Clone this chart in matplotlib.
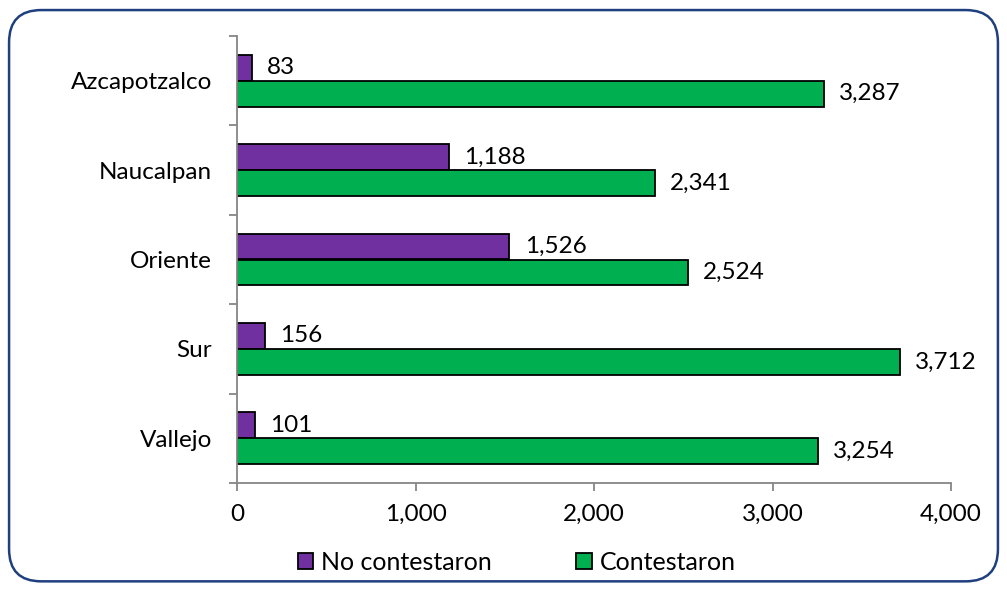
import matplotlib
matplotlib.use("Agg")
import matplotlib.pyplot as plt
from matplotlib.patches import FancyBboxPatch
from matplotlib.ticker import FuncFormatter, FixedLocator
import numpy as np

plt.rcParams['font.family'] = ['Lato', 'DejaVu Sans']

categories = ["Azcapotzalco", "Naucalpan", "Oriente", "Sur", "Vallejo"]
no_contestaron = [83, 1188, 1526, 156, 101]
contestaron = [3287, 2341, 2524, 3712, 3254]
series_names = ["No contestaron", "Contestaron"]
x_ticks = [0, 1000, 2000, 3000, 4000]

purple = "#7030A0"
green = "#00B050"
axis_gray = "#868686"
fs = 17.5

fig = plt.figure(figsize=(10.07, 5.92), dpi=100)

# rounded frame around the whole chart, kept behind the axes
frame = FancyBboxPatch((0.009, 0.018), 0.982, 0.965,
                       boxstyle="round,pad=0,rounding_size=0.032",
                       transform=fig.transFigure, facecolor="white",
                       edgecolor="#1F3F7F", linewidth=1.8,
                       mutation_aspect=1007 / 592, zorder=-10)
fig.patches.append(frame)

ax = fig.add_axes([237 / 1007, 1 - 483 / 592, (951 - 237) / 1007, (483 - 36) / 592])
ax.set_facecolor("none")
ax.set_zorder(5)

n = len(categories)
y = np.arange(n)
h = 0.29
ax.barh(y - h / 2, no_contestaron, height=h, color=purple, edgecolor="black",
        linewidth=1.3, label=series_names[0])
ax.barh(y + h / 2, contestaron, height=h, color=green, edgecolor="black",
        linewidth=1.3, label=series_names[1])

fmt = lambda v: f"{v:,.0f}"
for yi, v in zip(y, no_contestaron):
    ax.annotate(fmt(v), (v, yi - h / 2), xytext=(11, 0), textcoords="offset points",
                va="center", ha="left", fontsize=fs)
for yi, v in zip(y, contestaron):
    ax.annotate(fmt(v), (v, yi + h / 2), xytext=(11, 0), textcoords="offset points",
                va="center", ha="left", fontsize=fs)

ax.set_xlim(0, 4000)
ax.set_ylim(n - 0.5, -0.5)
ax.xaxis.set_major_locator(FixedLocator(x_ticks))
ax.xaxis.set_major_formatter(FuncFormatter(lambda v, p: fmt(v)))

ax.set_yticks(y)
ax.set_yticklabels(categories)
ax.yaxis.set_minor_locator(FixedLocator(np.arange(n + 1) - 0.5))
ax.tick_params(axis="y", which="major", length=0, pad=18, labelsize=fs)
ax.tick_params(axis="y", which="minor", length=6, width=1.3, color=axis_gray, direction="out")
ax.tick_params(axis="x", length=6, width=1.3, color=axis_gray, direction="out",
               labelsize=fs, pad=9)

for s in ["top", "right"]:
    ax.spines[s].set_visible(False)
for s in ["left", "bottom"]:
    ax.spines[s].set_color(axis_gray)
    ax.spines[s].set_linewidth(1.3)

leg = fig.legend(loc="center", bbox_to_anchor=(0.513, 1 - 562 / 592), ncol=2,
                 frameon=False, fontsize=18, handlelength=0.62, handleheight=0.62,
                 handletextpad=0.3, columnspacing=3.4)

fig.savefig("out.png", dpi=100)
